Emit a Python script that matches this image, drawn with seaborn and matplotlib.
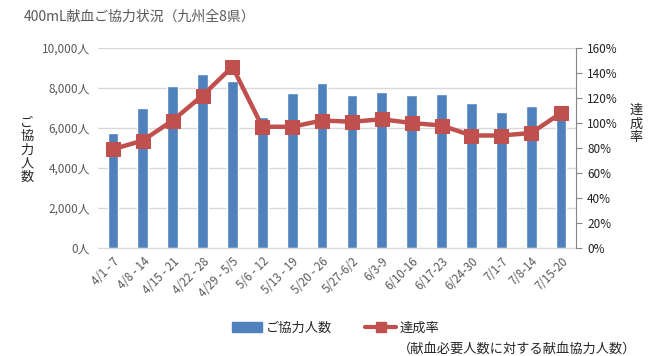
import numpy as np
import pandas as pd
import matplotlib
matplotlib.use("Agg")
import matplotlib.pyplot as plt
import seaborn as sns
from matplotlib.patches import Patch
from matplotlib.lines import Line2D

# データ
weeks = ["4/1 - 7", "4/8 - 14", "4/15 - 21", "4/22 - 28", "4/29 - 5/5", "5/6 - 12",
         "5/13 - 19", "5/20 - 26", "5/27-6/2", "6/3-9", "6/10-16", "6/17-23",
         "6/24-30", "7/1-7", "7/8-14", "7/15-20"]
donors = [5750, 7000, 8100, 8700, 8350, 6550, 7750, 8250, 7650, 7800,
          7650, 7700, 7250, 6800, 7100, 6650]
rate = [79, 86, 102, 122, 145, 97, 97, 102, 101, 103, 100, 98, 90, 90, 92, 108]

sns.set_style("white")
plt.rcParams["font.family"] = ["Noto Sans CJK JP", "DejaVu Sans"]

BLUE = "#4F81BD"
RED = "#C0504D"
GREY = "#595959"

df = pd.DataFrame({"week": weeks, "donors": donors, "rate": rate})
df["pos"] = np.arange(len(weeks))

fig = plt.figure(figsize=(6.6, 3.56), dpi=100)
ax = fig.add_axes([98 / 660, 1 - 248 / 356, 478 / 660, 200 / 356])

sns.barplot(data=df, x="week", y="donors", color=BLUE, width=0.36,
            saturation=1, ax=ax, zorder=2)
ax.set_ylim(0, 10000)
ax.set_yticks(range(0, 10001, 2000))
ax.set_yticklabels([f"{v:,}人" for v in range(0, 10001, 2000)], color=GREY, fontsize=8.5)
ax.yaxis.grid(True, color="#D9D9D9", linewidth=1, zorder=0)
ax.set_axisbelow(True)
ax.tick_params(axis="y", length=0, pad=6)
ax.set_xticks(df["pos"])
ax.set_xticklabels(weeks, rotation=45, ha="right", rotation_mode="anchor",
                   color=GREY, fontsize=8.3)
ax.tick_params(axis="x", length=0, pad=5)
ax.set_xlabel("")
ax.set_ylabel("")
ax.set_xlim(-0.5, len(weeks) - 0.5)
for s in ["left", "top", "right"]:
    ax.spines[s].set_visible(False)
ax.spines["bottom"].set_color("#D9D9D9")

ax2 = ax.twinx()
sns.lineplot(data=df, x="pos", y="rate", color=RED, linewidth=3.2, marker="s",
             markersize=10, markeredgecolor=RED, ax=ax2, zorder=3)
ax2.set_ylim(0, 160)
ax2.set_yticks(range(0, 161, 20))
ax2.set_yticklabels([f"{v}%" for v in range(0, 161, 20)], fontsize=8.5, color="#222222")
ax2.tick_params(axis="y", direction="out", length=4, color="#868686", pad=4)
ax2.set_xlim(-0.5, len(weeks) - 0.5)
ax2.set_xlabel("")
ax2.set_ylabel("")
for s in ["left", "top", "bottom"]:
    ax2.spines[s].set_visible(False)
ax2.spines["right"].set_color("#868686")

fig.text(24 / 660, 1 - 17 / 356, "400mL献血ご協力状況（九州全8県）", color=GREY,
         fontsize=10, va="center", ha="left")
fig.text(27 / 660, 1 - 150 / 356, "\n".join("ご協力人数"), fontsize=9.5,
         va="center", ha="center", linespacing=1.05)
fig.text(636 / 660, 1 - 124 / 356, "\n".join("達成率"), fontsize=9.5,
         va="center", ha="center", linespacing=1.05)

handles = [Patch(color=BLUE),
           Line2D([], [], color=RED, linewidth=3, marker="s", markersize=7)]
fig.legend(handles, ["ご協力人数", "達成率"], loc="center left",
           bbox_to_anchor=(220 / 660, 1 - 328 / 356), ncol=2, frameon=False,
           fontsize=9.5, handlelength=2.3, columnspacing=2.5, handletextpad=0.3)
fig.text(398 / 660, 1 - 349 / 356, "（献血必要人数に対する献血協力人数）",
         fontsize=9.5, va="center", ha="left")

fig.savefig("out.png", dpi=100)
